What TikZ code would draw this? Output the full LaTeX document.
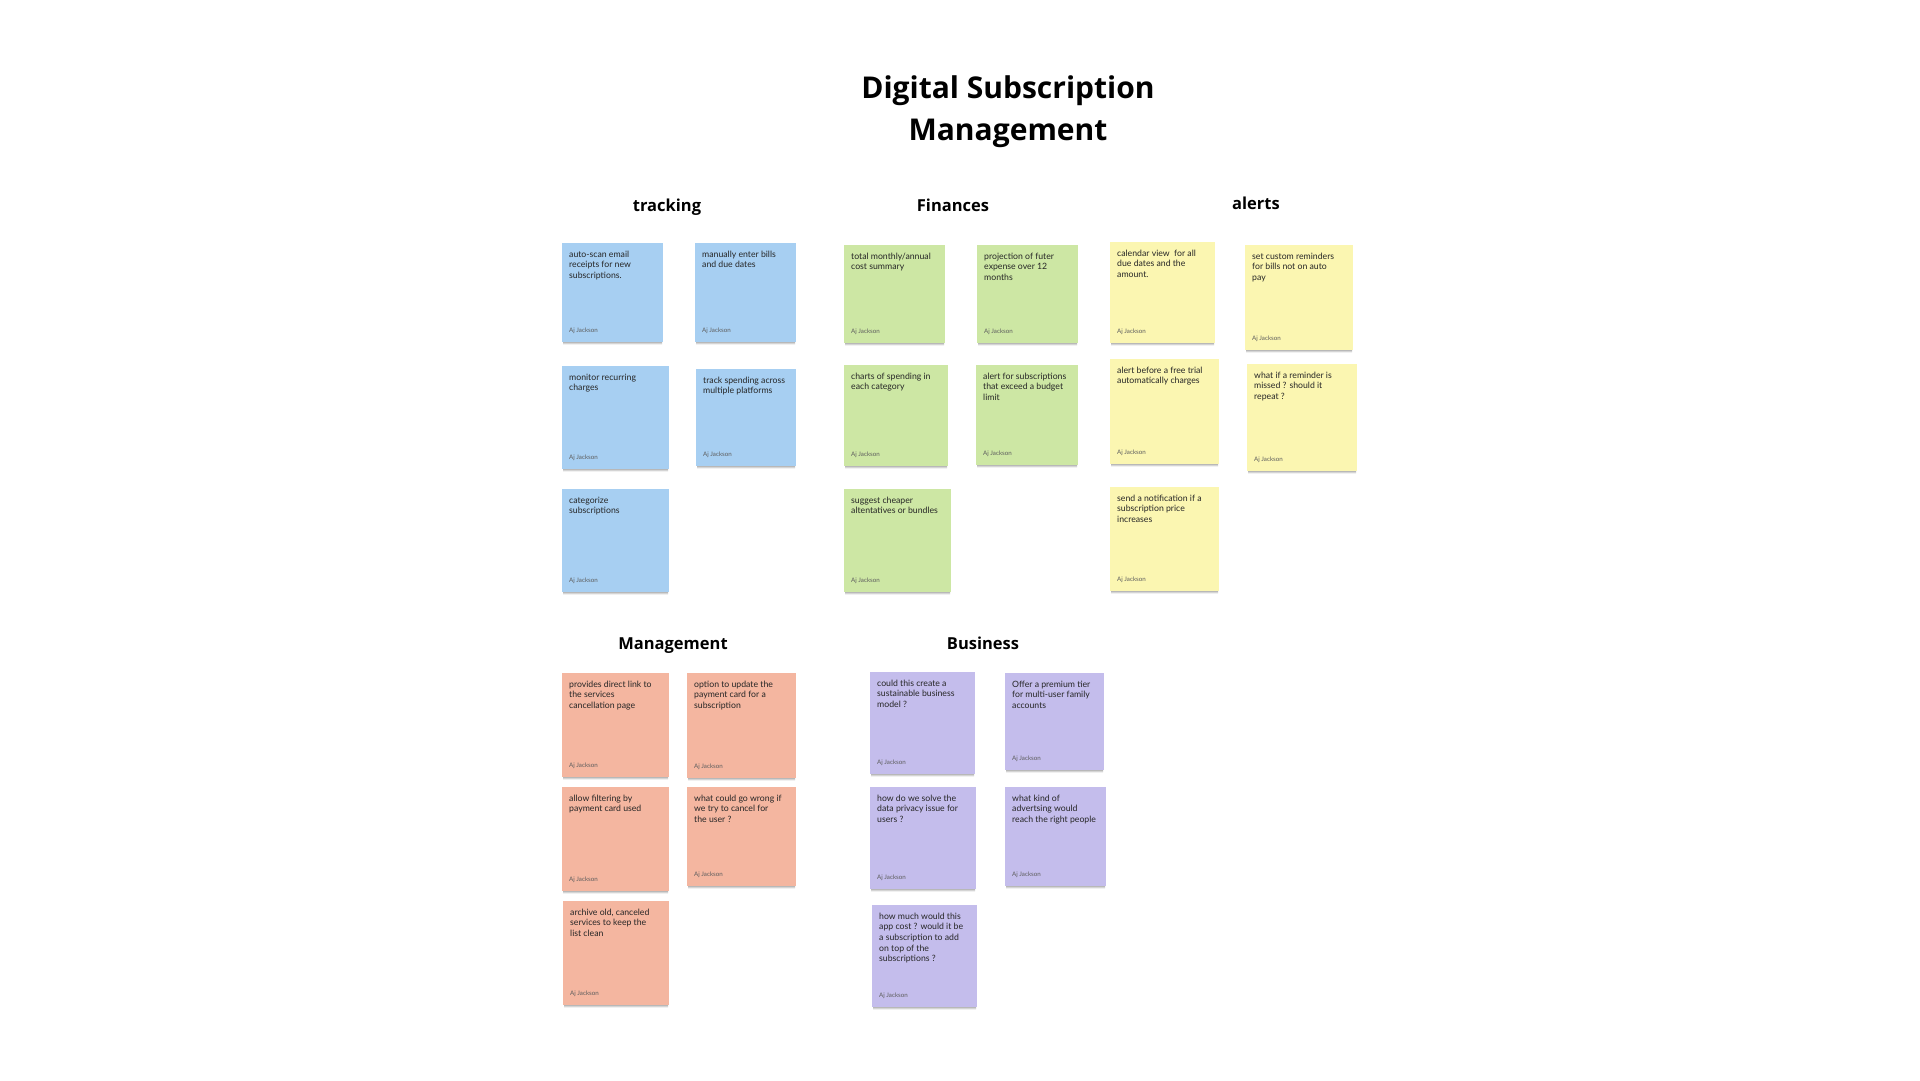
\documentclass[tikz,border=0pt]{standalone}
\usepackage{fontspec}
\setmainfont{Lato}
\newfontfamily\headfont{Open Sans}
\definecolor{noteblue}{HTML}{A7CFF2}
\definecolor{notegreen}{HTML}{CDE7A4}
\definecolor{noteyellow}{HTML}{FBF6B1}
\definecolor{notesalmon}{HTML}{F4B6A0}
\definecolor{notepurple}{HTML}{C4BDEC}
\definecolor{inkdark}{HTML}{262626}
\definecolor{inkgrey}{HTML}{5E5E5E}
\definecolor{shade}{HTML}{EDEDED}
\tikzset{
  notebox/.style={draw=none, inner sep=0pt, anchor=north west},
  notetext/.style={inner sep=0pt, anchor=north west, align=left, text=inkdark,
    font=\fontsize{8.7}{10.7}\selectfont},
  bytext/.style={inner sep=0pt, anchor=west, text=inkgrey,
    font=\fontsize{6.2}{7}\selectfont},
  maintitle/.style={inner sep=0pt, align=center, text=black,
    font=\headfont\fontsize{30}{42}\selectfont\bfseries},
  grouptitle/.style={inner sep=0pt, text=black,
    font=\headfont\fontsize{16.5}{20}\selectfont\bfseries}
}
% #1 name, #2 colour, #3 left, #4 top, #5 width, #6 height, #7 text
\newcommand{\sticky}[7]{%
  \fill[shade] ({#3+1},{#4+#6-2}) rectangle ({#3+#5-1},{#4+#6+2.5});
  \node[notebox, fill=#2, minimum width=#5pt, minimum height=#6pt] (#1) at (#3,#4) {};
  \node[notetext] (#1-txt) at ([shift={(7,7.5)}]#1.north west) {#7};
  \node[bytext] (#1-by) at ([shift={(7,-11.5)}]#1.south west) {Aj Jackson};
}
\begin{document}
\begin{tikzpicture}[x=1pt,y=-1pt]
\useasboundingbox[fill=white] (0,0) rectangle (1920,1080);

\node[maintitle] (title) at (1008,112) {Digital Subscription\\Management};

\node[grouptitle] (g-track) at (667,207) {tracking};
\node[grouptitle] (g-fin) at (953,205) {Finances};
\node[grouptitle] (g-alert) at (1256,203) {alerts};
\node[grouptitle] (g-manage) at (673,646) {Management};
\node[grouptitle] (g-biz) at (983,643) {Business};

% tracking
\sticky{t1}{noteblue}{562}{243}{101}{99}{auto-scan email\\receipts for new\\subscriptions.}
\sticky{t2}{noteblue}{695}{243}{101}{99}{manually enter bills\\and due dates}
\sticky{t3}{noteblue}{562}{366}{107}{103}{monitor recurring\\charges}
\sticky{t4}{noteblue}{696}{369}{100}{97}{track spending across\\multiple platforms}
\sticky{t5}{noteblue}{562}{489}{107}{103}{categorize\\subscriptions}

% Finances
\sticky{f1}{notegreen}{844}{245}{101}{98}{total monthly/annual\\cost summary}
\sticky{f2}{notegreen}{977}{245}{101}{98}{projection of futer\\expense over 12\\months}
\sticky{f3}{notegreen}{844}{365}{104}{101}{charts of spending in\\each category}
\sticky{f4}{notegreen}{976}{365}{102}{100}{alert for subscriptions\\that exceed a budget\\limit}
\sticky{f5}{notegreen}{844}{489}{107}{103}{suggest cheaper\\altentatives or bundles}

% alerts
\sticky{a1}{noteyellow}{1110}{242}{105}{101}{calendar view\ \ for all\\due dates and the\\amount.}
\sticky{a2}{noteyellow}{1245}{245}{108}{105}{set custom reminders\\for bills not on auto\\pay}
\sticky{a3}{noteyellow}{1110}{359}{109}{105}{alert before a free trial\\automatically charges}
\sticky{a4}{noteyellow}{1247}{364}{110}{107}{what if a reminder is\\missed ? should it\\repeat ?}
\sticky{a5}{noteyellow}{1110}{487}{109}{104}{send a notification if a\\subscription price\\increases}

% Management
\sticky{m1}{notesalmon}{562}{673}{107}{104}{provides direct link to\\the services\\cancellation page}
\sticky{m2}{notesalmon}{687}{673}{109}{105}{option to update the\\payment card for a\\subscription}
\sticky{m3}{notesalmon}{562}{787}{107}{104}{allow filtering by\\payment card used}
\sticky{m4}{notesalmon}{687}{787}{109}{99}{what could go wrong if\\we try to cancel for\\the user ?}
\sticky{m5}{notesalmon}{563}{901}{106}{104}{archive old, canceled\\services to keep the\\list clean}

% Business
\sticky{b1}{notepurple}{870}{672}{105}{102}{could this create a\\sustainable business\\model ?}
\sticky{b2}{notepurple}{1005}{673}{99}{97}{Offer a premium tier\\for multi-user family\\accounts}
\sticky{b3}{notepurple}{870}{787}{106}{102}{how do we solve the\\data privacy issue for\\users ?}
\sticky{b4}{notepurple}{1005}{787}{101}{99}{what kind of\\advertsing would\\reach the right people}
\sticky{b5}{notepurple}{872}{905}{105}{102}{how much would this\\app cost ? would it be\\a subscription to add\\on top of the\\subscriptions ?}
\end{tikzpicture}
\end{document}
